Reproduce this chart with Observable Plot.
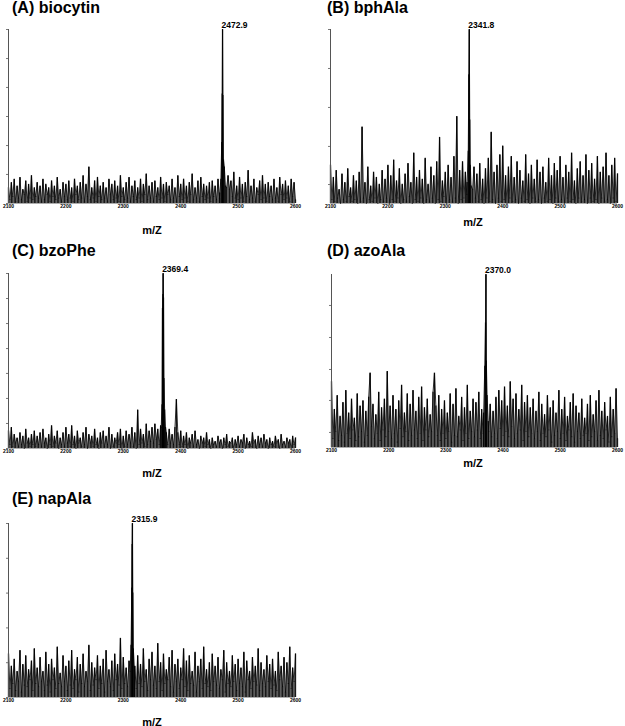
<!DOCTYPE html>
<html><head><meta charset="utf-8">
<script src="https://cdn.jsdelivr.net/npm/d3@7"></script>
<script src="https://cdn.jsdelivr.net/npm/@observablehq/plot@0.6"></script>
<style>
body{margin:0;background:#fff;font-family:"Liberation Sans",Arial,sans-serif;}
#root{position:relative;width:625px;height:726px;overflow:hidden;background:#fff;}
.t{position:absolute;font-weight:bold;font-size:16px;line-height:16px;white-space:nowrap;color:#000}
.m{position:absolute;font-weight:bold;font-size:11px;line-height:11px;white-space:nowrap;transform:translate(-50%,-50%);color:#000}
.p{position:absolute}
</style></head><body><div id="root"></div>
<script>
// m/Z grid of the noise arrays: 2100, 2102.5, ..., 2600
const mzStart = 2100, mzStep = 2.5;
const xTicks = [2100, 2200, 2300, 2400, 2500, 2600];
const titles = ["(A) biocytin", "(B) bphAla", "(C) bzoPhe", "(D) azoAla", "(E) napAla"];
const peakMz = [2472.9, 2341.8, 2369.4, 2370.0, 2315.9];
const peakLabels = ["2472.9", "2341.8", "2369.4", "2370.0", "2315.9"];

// relative intensity (%) of the background noise
const noiseA = [9,2,12,4,14,1,10,3,15,2,8,5,13,1,11,3,16,2,9,4,12,
3,10,1,14,2,11,5,9,1,13,4,10,2,15,3,8,1,12,4,11,
2,13,3,9,1,14,5,10,2,12,3,16,1,11,4,21,2,9,3,13,
1,15,4,10,2,12,3,9,1,14,5,11,2,13,3,10,1,16,4,9,
2,12,3,15,1,10,4,13,2,9,3,14,1,11,5,17,2,10,3,12,
1,13,4,9,2,15,3,11,1,12,5,10,2,14,3,9,1,16,4,11,
2,14,3,10,1,12,5,17,2,9,3,13,1,15,4,11,2,10,3,12,
1,13,4,10,2,14,3,12,5,10,12,9,16,8,13,4,18,3,10,2,
15,3,11,1,12,4,19,2,10,3,14,1,9,5,13,2,16,3,11,1,
12,4,10,2,14,3,9,1,15,5,11,2,13,3,10,1,14,4,12,2];
const noiseB = [22,2,15,1,19,3,8,0,17,2,12,1,20,4,9,1,16,2,13,0,18,
1,44,3,12,0,21,2,10,1,18,3,15,0,11,2,19,1,14,3,22,
0,16,2,25,1,13,3,20,0,11,2,17,1,23,4,12,0,29,2,15,
1,19,3,14,0,26,2,11,1,21,3,16,0,24,2,38,1,13,4,18,
0,22,2,15,1,27,3,50,0,19,2,24,3,18,5,20,25,14,8,21,
3,17,1,23,2,14,0,20,3,26,1,41,2,18,0,22,3,28,1,33,
2,16,0,21,3,27,1,15,2,24,0,19,3,13,1,28,2,17,0,22,
3,14,1,25,2,18,0,21,3,12,1,26,2,16,0,23,3,19,1,27,
2,15,0,22,3,18,1,29,2,13,0,20,3,24,1,16,2,28,0,19,
3,23,1,14,2,27,0,18,3,21,1,29,2,16,0,22,3,26,1,17];
const noiseC = [10,2,12,1,8,3,6,1,9,2,7,0,11,3,6,1,8,2,10,1,7,
2,9,1,11,3,6,0,8,2,13,1,7,3,10,0,6,2,9,1,12,
3,8,1,13,2,7,0,10,3,6,1,9,2,12,0,8,3,7,1,11,
2,6,0,9,3,10,1,7,2,12,0,8,1,6,3,9,2,11,0,7,
1,10,2,8,3,12,1,9,0,22,2,11,3,8,1,14,2,10,4,12,
3,14,5,11,2,13,4,10,3,9,2,11,3,8,2,12,28,9,2,10,
1,7,2,9,0,6,3,8,1,10,2,5,0,7,3,6,1,9,2,5,
0,6,2,4,1,7,3,5,0,6,2,8,1,4,3,6,0,5,2,7,
1,5,3,8,0,6,2,4,1,9,3,5,0,7,2,6,1,8,3,5,
0,6,2,4,1,7,3,5,0,8,2,4,1,6,3,5,0,7,2,6];
const noiseD = [38,5,22,9,30,4,18,7,26,3,33,8,20,5,28,10,17,4,31,6,24,
9,27,3,21,7,29,43,12,25,5,19,8,32,4,23,10,28,6,44,9,
24,5,30,8,22,3,27,11,36,6,20,9,31,4,25,7,33,10,21,5,
29,8,35,4,23,10,28,6,19,9,32,43,24,7,30,4,22,8,27,5,
20,9,31,3,25,7,34,6,18,10,29,4,23,8,36,5,21,9,28,6,
26,10,32,5,22,8,19,4,30,9,25,6,21,8,29,5,33,11,27,7,
35,9,24,6,38,12,28,5,31,8,22,10,36,4,26,9,30,6,23,8,
28,5,21,9,32,4,25,8,19,6,30,10,23,3,27,7,20,9,33,5,
22,8,29,4,18,10,26,6,31,3,24,9,20,5,28,7,17,8,25,4,
30,6,19,9,27,4,33,7,21,5,26,10,18,3,29,6,22,8,34,5];
const noiseE = [25,5,18,8,22,4,15,9,27,3,19,7,24,6,16,10,21,4,28,8,17,
6,23,9,15,4,26,7,19,3,22,10,17,5,29,8,14,6,24,9,18,
4,21,7,27,5,16,10,23,3,19,8,25,6,15,9,30,4,20,7,17,
10,24,5,18,8,22,3,27,9,16,6,21,4,25,10,19,7,34,5,23,
8,17,6,21,9,20,10,18,5,24,8,19,6,28,9,16,4,22,10,26,
7,18,5,31,9,20,4,25,8,16,10,23,6,27,3,19,9,22,5,17,
10,28,6,21,4,24,8,15,7,26,3,18,9,22,5,29,8,16,6,20,
4,25,9,18,7,23,5,16,10,27,3,20,8,15,6,24,9,19,4,22,
8,17,6,26,3,21,10,15,5,23,9,18,7,28,4,20,8,16,6,24,
9,19,5,22,7,15,4,26,10,18,6,23,3,20,8,29,5,17,9,25];

// main peak profiles (m/Z, relative intensity %)
const peakAx = [2468, 2470, 2471.5, 2472.3, 2472.9, 2473.5, 2474.5, 2476, 2478];
const peakAy = [6, 14, 35, 63, 100, 62, 25, 21, 10];
const peakBx = [2338, 2340, 2341, 2341.8, 2342.6, 2343.5, 2345];
const peakBy = [12, 30, 74, 100, 48, 22, 10];
const peakCx = [2366, 2367.5, 2368.3, 2369, 2369.4, 2370, 2370.8, 2372, 2373.5];
const peakCy = [12, 25, 80, 88, 100, 86, 40, 22, 12];
const peakDx = [2366, 2368, 2369.3, 2370, 2370.7, 2372, 2374];
const peakDy = [20, 47, 72, 100, 50, 30, 15];
const peakEx = [2312, 2313.5, 2314.8, 2315.4, 2315.9, 2316.5, 2317.5, 2319.5];
const peakEy = [15, 30, 63, 88, 100, 60, 28, 16];

// y-axis tick positions (% of full scale)
const yTicksA = [0, 16.7, 33.3, 50, 66.7, 83.3, 100];
const yTicksB = [10.9, 32.8, 55.2, 77.6, 100];
const yTicksC = [0, 14.3, 28.6, 42.9, 57.1, 71.4, 85.7, 100];
const yTicksD = [8.7, 27.2, 45.1, 63.6, 82.1];
const yTicksE = [0, 20, 40, 60, 80, 100];

const noises = [noiseA, noiseB, noiseC, noiseD, noiseE];
const peaksX = [peakAx, peakBx, peakCx, peakDx, peakEx];
const peaksY = [peakAy, peakBy, peakCy, peakDy, peakEy];
const yTicks = [yTicksA, yTicksB, yTicksC, yTicksD, yTicksE];

// layout (pixels)
const layout = [
  {left: 0,   top: 20,  width: 305, mL: 8,  mR: 10, mT: 9,  fh: 174, mB: 12, tx: 12,  ty: 0,   mx: 152, my: 230},
  {left: 310, top: 20,  width: 315, mL: 20, mR: 8,  mT: 9,  fh: 174, mB: 12, tx: 327, ty: 0,   mx: 473, my: 222},
  {left: 0,   top: 264, width: 305, mL: 8,  mR: 10, mT: 9,  fh: 175, mB: 12, tx: 12,  ty: 243, mx: 152, my: 473},
  {left: 310, top: 264, width: 315, mL: 21, mR: 8,  mT: 10, fh: 173, mB: 12, tx: 327, ty: 243, mx: 473, my: 463},
  {left: 0,   top: 514, width: 305, mL: 8,  mR: 10, mT: 9,  fh: 174, mB: 12, tx: 12,  ty: 491, mx: 152, my: 722}
];

const root = document.getElementById("root");
const font = "'Liberation Sans', Arial, Helvetica, sans-serif";

for (let k = 0; k < 5; k++) {
  const L = layout[k];
  const pk = peakMz[k];
  const px = peaksX[k], py = peaksY[k];
  const lo = d3.min(px), hi = d3.max(px);
  const noisePts = noises[k].map((v, i) => ({x: mzStart + i * mzStep, y: v}))
    .filter(d => d.x < lo || d.x > hi);
  const peakPts = px.map((x, i) => ({x, y: py[i]}));
  const series = noisePts.concat(peakPts).sort((a, b) => a.x - b.x);

  const chart = Plot.plot({
    width: L.width,
    height: L.mT + L.fh + L.mB,
    marginLeft: L.mL, marginRight: L.mR, marginTop: L.mT, marginBottom: L.mB,
    x: {domain: [2100, 2600]},
    y: {domain: [0, 100]},
    style: {fontFamily: font, background: "white", overflow: "visible", color: "#000"},
    marks: [
      Plot.ruleY([0], {stroke: "#999", strokeWidth: 0.8}),
      Plot.ruleX(series, {x: "x", y1: 0, y2: "y", stroke: "#000", strokeWidth: 1.3, strokeOpacity: 0.9}),
      Plot.line(series, {x: "x", y: "y", stroke: "#000", strokeWidth: 0.8}),
      Plot.ruleX([2100], {stroke: "#555", strokeWidth: 1}),
      Plot.axisY({ticks: yTicks[k], tickSize: 2, tickFormat: () => "", label: null, stroke: "#777"}),
      Plot.axisX({ticks: xTicks, tickSize: 0, tickPadding: 1, tickFormat: d => String(d), label: null,
                  fontSize: 5, fontWeight: "bold"}),
      Plot.text([pk], {x: d => d, y: () => 100, text: () => peakLabels[k], dy: -4, dx: -1,
                       textAnchor: "start", fontSize: 8.5, fontWeight: "bold", fill: "#000"})
    ]
  });
  const wrap = document.createElement("div");
  wrap.className = "p";
  wrap.style.left = L.left + "px";
  wrap.style.top = L.top + "px";
  wrap.appendChild(chart);
  root.appendChild(wrap);

  const t = document.createElement("div");
  t.className = "t";
  t.style.left = L.tx + "px";
  t.style.top = L.ty + "px";
  t.textContent = titles[k];
  root.appendChild(t);

  const m = document.createElement("div");
  m.className = "m";
  m.style.left = L.mx + "px";
  m.style.top = L.my + "px";
  m.textContent = "m/Z";
  root.appendChild(m);
}
</script></body></html>
